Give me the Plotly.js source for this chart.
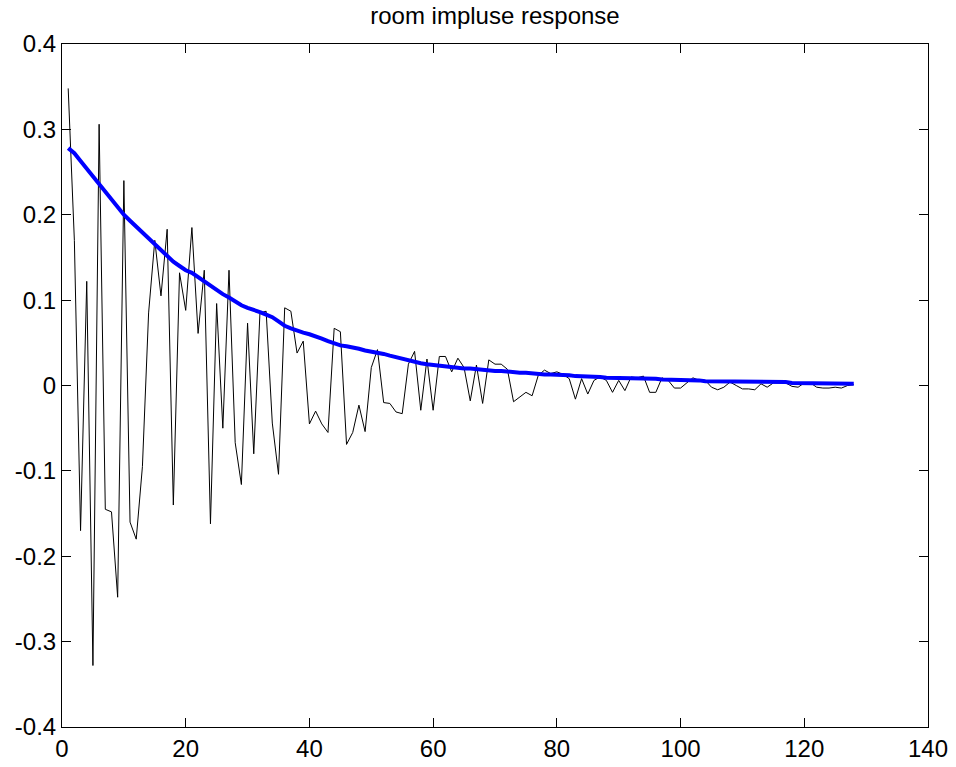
<!DOCTYPE html>
<html>
<head>
<meta charset="utf-8">
<script src="https://cdn.plot.ly/plotly-3.0.1.min.js"></script>
<style>
  html, body { margin: 0; padding: 0; background: #ffffff; }
  #chart { width: 956px; height: 767px; }
</style>
</head>
<body>
<div id="chart"></div>
<script>
// Room impulse response samples (black thin line)
const impulse = [
  0.348, 0.170, -0.170, 0.122, -0.328, 0.306, -0.145, -0.148, -0.248, 0.240,
  -0.160, -0.180, -0.095, 0.085, 0.170, 0.105, 0.183, -0.140, 0.132, 0.088,
  0.185, 0.061, 0.135, -0.162, 0.096, -0.050, 0.135, -0.067, -0.116, 0.073,
  -0.080, 0.085, 0.087, -0.044, -0.104, 0.091, 0.087, 0.038, 0.052, -0.045,
  -0.030, -0.045, -0.055, 0.067, 0.063, -0.069, -0.055, -0.023, -0.054, 0.021,
  0.042, -0.020, -0.021, -0.031, -0.033, 0.025, 0.040, -0.029, 0.031, -0.029,
  0.034, 0.034, 0.016, 0.032, 0.021, -0.018, 0.024, -0.021, 0.030, 0.025,
  0.025, 0.019, -0.019, -0.014, -0.008, -0.012, 0.012, 0.018, 0.014, 0.016,
  0.013, 0.008, -0.016, 0.008, -0.010, 0.006, 0.010, 0.006, -0.008, 0.006,
  -0.006, 0.010, 0.009, 0.011, -0.008, -0.008, 0.009, 0.006, -0.003, -0.003,
  0.003, 0.009, 0.006, 0.006, -0.002, -0.005, -0.002, 0.004, 0.000, -0.004,
  -0.004, -0.005, 0.002, -0.002, 0.003, 0.003, 0.003, -0.001, -0.002, 0.003,
  0.003, -0.002, -0.003, -0.003, -0.002, -0.003, 0.000, 0.001
];

// Decay envelope (thick blue line)
const envelope = [
  0.278, 0.272, 0.263, 0.254, 0.244, 0.235, 0.226, 0.217, 0.208, 0.200,
  0.193, 0.186, 0.179, 0.172, 0.165, 0.158, 0.151, 0.145, 0.140, 0.135,
  0.132, 0.127, 0.121, 0.116, 0.111, 0.107, 0.103, 0.098, 0.094, 0.091,
  0.089, 0.086, 0.083, 0.080, 0.075, 0.070, 0.067, 0.064, 0.062, 0.060,
  0.058, 0.055, 0.052, 0.049, 0.047, 0.046, 0.045, 0.043, 0.041, 0.040,
  0.039, 0.037, 0.035, 0.033, 0.031, 0.030, 0.028, 0.026, 0.025, 0.024,
  0.023, 0.022, 0.022, 0.021, 0.020, 0.020, 0.019, 0.019, 0.018, 0.017,
  0.017, 0.016, 0.016, 0.015, 0.015, 0.014, 0.014, 0.013, 0.013, 0.013,
  0.012, 0.012, 0.011, 0.011, 0.010, 0.010, 0.010, 0.009, 0.009, 0.009,
  0.009, 0.008, 0.008, 0.008, 0.008, 0.008, 0.007, 0.007, 0.007, 0.007,
  0.006, 0.006, 0.006, 0.005, 0.005, 0.005, 0.005, 0.004, 0.004, 0.004,
  0.004, 0.004, 0.004, 0.004, 0.004, 0.004, 0.004, 0.003, 0.003, 0.003,
  0.003, 0.003, 0.003, 0.002, 0.002, 0.002, 0.002, 0.002
];

const xTickVals = [0, 20, 40, 60, 80, 100, 120, 140];
const xTickText = ["0", "20", "40", "60", "80", "100", "120", "140"];
const yTickVals = [-0.4, -0.3, -0.2, -0.1, 0, 0.1, 0.2, 0.3, 0.4];
const yTickText = ["-0.4", "-0.3", "-0.2", "-0.1", "0", "0.1", "0.2", "0.3", "0.4"];
const chartTitle = "room impluse response";

const sampleIndex = impulse.map((_, i) => i + 1);
const envIndex = envelope.map((_, i) => i + 1);

const font = { family: "Liberation Sans, Arial, sans-serif", size: 24, color: "#000000" };

const traces = [
  {
    x: sampleIndex, y: impulse, type: "scatter", mode: "lines",
    line: { color: "#000000", width: 1 }, hoverinfo: "skip"
  },
  {
    x: envIndex, y: envelope, type: "scatter", mode: "lines",
    line: { color: "#0000ff", width: 4 }, hoverinfo: "skip"
  }
];

const axisCommon = {
  showgrid: false, zeroline: false,
  showline: true, linecolor: "#000000", linewidth: 1, mirror: "allticks",
  ticks: "inside", ticklen: 9, tickwidth: 1, tickcolor: "#000000",
  tickfont: font, tickmode: "array"
};

const layout = {
  width: 956, height: 767,
  paper_bgcolor: "#ffffff", plot_bgcolor: "#ffffff",
  showlegend: false,
  font: font,
  margin: { l: 62, r: 28, t: 44, b: 40, pad: 0 },
  title: {
    text: chartTitle, font: font,
    x: 0.5, xref: "paper", xanchor: "center",
    y: 1 - 16 / 767, yref: "container", yanchor: "middle"
  },
  xaxis: Object.assign({}, axisCommon, {
    range: [0, 140], tickvals: xTickVals, ticktext: xTickText
  }),
  yaxis: Object.assign({}, axisCommon, {
    range: [-0.4, 0.4], tickvals: yTickVals, ticktext: yTickText
  })
};

Plotly.newPlot("chart", traces, layout, { staticPlot: true, displayModeBar: false });
</script>
</body>
</html>
